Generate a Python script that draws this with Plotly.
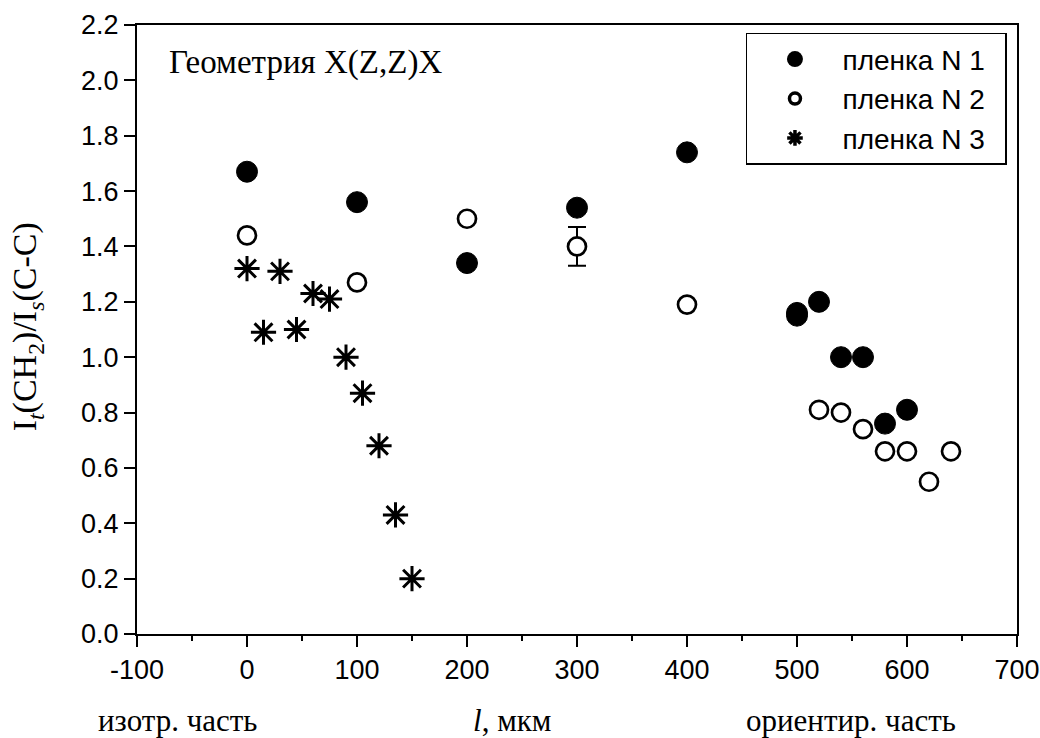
import plotly.graph_objects as go

# Film 1 (filled circles)
film1_x = [0, 100, 200, 300, 400, 500, 500, 520, 540, 560, 580, 600]
film1_y = [1.67, 1.56, 1.34, 1.54, 1.74, 1.15, 1.16, 1.20, 1.00, 1.00, 0.76, 0.81]

# Film 2 (open circles)
film2_x = [0, 100, 200, 300, 400, 520, 540, 560, 580, 600, 620, 640]
film2_y = [1.44, 1.27, 1.50, 1.40, 1.19, 0.81, 0.80, 0.74, 0.66, 0.66, 0.55, 0.66]
film2_err = [None, None, None, 0.07, None, None, None, None, None, None, None, None]

# Film 3 (asterisks)
film3_x = [0, 15, 30, 45, 60, 75, 90, 105, 120, 135, 150]
film3_y = [1.32, 1.09, 1.31, 1.10, 1.23, 1.21, 1.00, 0.87, 0.68, 0.43, 0.20]

legend_names = ["пленка N 1", "пленка N 2", "пленка N 3"]

x_ticks = [-100, 0, 100, 200, 300, 400, 500, 600, 700]
y_ticks = [0.0, 0.2, 0.4, 0.6, 0.8, 1.0, 1.2, 1.4, 1.6, 1.8, 2.0, 2.2]

SANS = "Liberation Sans, Arial, sans-serif"
SERIF = "Liberation Serif, Times New Roman, serif"
PAD = "\u00a0\u00a0"

fig = go.Figure()

fig.add_trace(go.Scatter(
    x=film1_x, y=film1_y, mode="markers", showlegend=False,
    marker=dict(symbol="circle", size=21, color="black", line=dict(width=1, color="black")),
))
fig.add_trace(go.Scatter(
    x=film2_x, y=film2_y, mode="markers", showlegend=False,
    error_y=dict(type="data", array=film2_err, visible=True, color="black", thickness=2, width=9),
    marker=dict(symbol="circle", size=18, color="white", line=dict(width=2.7, color="black")),
))
fig.add_trace(go.Scatter(
    x=film3_x, y=film3_y, mode="markers", showlegend=False,
    marker=dict(symbol="asterisk-open", size=21, color="black", line=dict(width=3, color="black")),
))

# legend-only entries (smaller symbols as in the reference legend)
fig.add_trace(go.Scatter(x=[None], y=[None], mode="markers", name=legend_names[0] + PAD,
                         marker=dict(symbol="circle", size=17, color="black")))
fig.add_trace(go.Scatter(x=[None], y=[None], mode="markers", name=legend_names[1] + PAD,
                         marker=dict(symbol="circle", size=11, color="white", line=dict(width=3.5, color="black"))))
fig.add_trace(go.Scatter(x=[None], y=[None], mode="markers", name=legend_names[2] + PAD,
                         marker=dict(symbol="asterisk-open", size=13, color="black", line=dict(width=3.5, color="black"))))

axis_common = dict(
    showline=True, linecolor="black", linewidth=2, mirror=True,
    ticks="outside", ticklen=11, tickwidth=2, tickcolor="black",
    showgrid=False, zeroline=False, automargin=False,
    tickfont=dict(family=SANS, size=27, color="black"),
    ticklabeloverflow="allow",
)

fig.update_xaxes(range=[-100, 700], tickvals=x_ticks, ticktext=[str(v) for v in x_ticks],
                 minor=dict(ticks="outside", ticklen=5, tickwidth=2, tickcolor="black", dtick=50, showgrid=False),
                 **axis_common)
fig.update_yaxes(range=[0, 2.2], tickvals=y_ticks, ticktext=[f"{v:.1f}" for v in y_ticks],
                 **axis_common)

annotations = [
    dict(text="Геометрия X(Z,Z)X", xref="paper", yref="paper", x=0.034, y=0.939,
         xanchor="left", yanchor="middle", showarrow=False,
         font=dict(family=SERIF, size=33, color="black")),
    dict(text="I<sub><i>t</i></sub>(CH<sub>2</sub>)/I<sub><i>s</i></sub>(C-C)", xref="paper", yref="paper",
         x=-0.124, y=0.505, xanchor="center", yanchor="middle", textangle=-90, showarrow=False,
         font=dict(family=SERIF, size=34, color="black")),
    dict(text="изотр. часть", xref="paper", yref="paper", x=0.046, y=-0.142,
         xanchor="center", yanchor="middle", showarrow=False,
         font=dict(family=SERIF, size=31, color="black")),
    dict(text="<i>l</i>, мкм", xref="paper", yref="paper", x=0.426, y=-0.142,
         xanchor="center", yanchor="middle", showarrow=False,
         font=dict(family=SERIF, size=31, color="black")),
    dict(text="ориентир. часть", xref="paper", yref="paper", x=0.811, y=-0.142,
         xanchor="center", yanchor="middle", showarrow=False,
         font=dict(family=SERIF, size=31, color="black")),
]

fig.update_layout(
    width=1040, height=738, autosize=False,
    margin=dict(l=137, r=23, t=25, b=104),
    paper_bgcolor="white", plot_bgcolor="white",
    annotations=annotations,
    legend=dict(x=0.9886, y=0.987, xanchor="right", yanchor="top",
                bgcolor="white", bordercolor="black", borderwidth=1.5,
                font=dict(family=SANS, size=28, color="black"),
                itemwidth=85, tracegroupgap=0),
)

fig.write_html(
    "out.html",
    config={"displayModeBar": False},
    post_script="document.body.style.margin='0px';",
)
